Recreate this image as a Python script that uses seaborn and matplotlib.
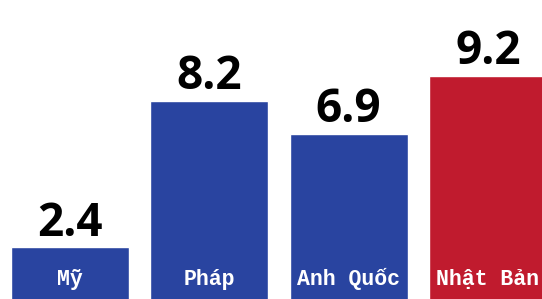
import pandas as pd
import matplotlib
matplotlib.use("Agg")
import matplotlib.pyplot as plt
import seaborn as sns

# ---------------------------------------------------
# DATA
# ---------------------------------------------------

countries = ["Mỹ", "Pháp", "Anh Quốc", "Nhật Bản"]
values = [2.4, 8.2, 6.9, 9.2]
value_labels = ["2.4", "8.2", "6.9", "9.2"]
bar_colors = ["#2944a0", "#2944a0", "#2944a0", "#c01b2e"]


def plot_bars():
    df = pd.DataFrame({"country": countries, "value": values})

    sns.set_style("white")

    fig = plt.figure(figsize=(5.42, 2.99), dpi=100)
    # axes runs a little below the picture so the bars reach the bottom edge
    ax = fig.add_axes([0, -0.03, 1, 1.03])

    sns.barplot(
        data=df, x="country", y="value", hue="country",
        palette=bar_colors, width=0.847, legend=False,
        saturation=1, ax=ax
    )

    ax.set_xlim(-0.503, 3.388)
    ax.set_ylim(0, 12.19)
    ax.axis("off")

    for i, (v, lab) in enumerate(zip(values, value_labels)):
        ax.annotate(
            lab, xy=(i, v), xytext=(0, 8.5), textcoords="offset points",
            ha="center", va="baseline", fontsize=33, fontweight="bold",
            family=["Open Sans", "DejaVu Sans"], color="black"
        )
        ax.annotate(
            countries[i], xy=(i, 14), xycoords=("data", "figure pixels"),
            ha="center", va="baseline", fontsize=15.5, fontweight="bold",
            family=["Liberation Mono", "DejaVu Sans Mono"], color="white"
        )

    fig.savefig("out.png", dpi=100)


if __name__ == "__main__":
    plot_bars()
